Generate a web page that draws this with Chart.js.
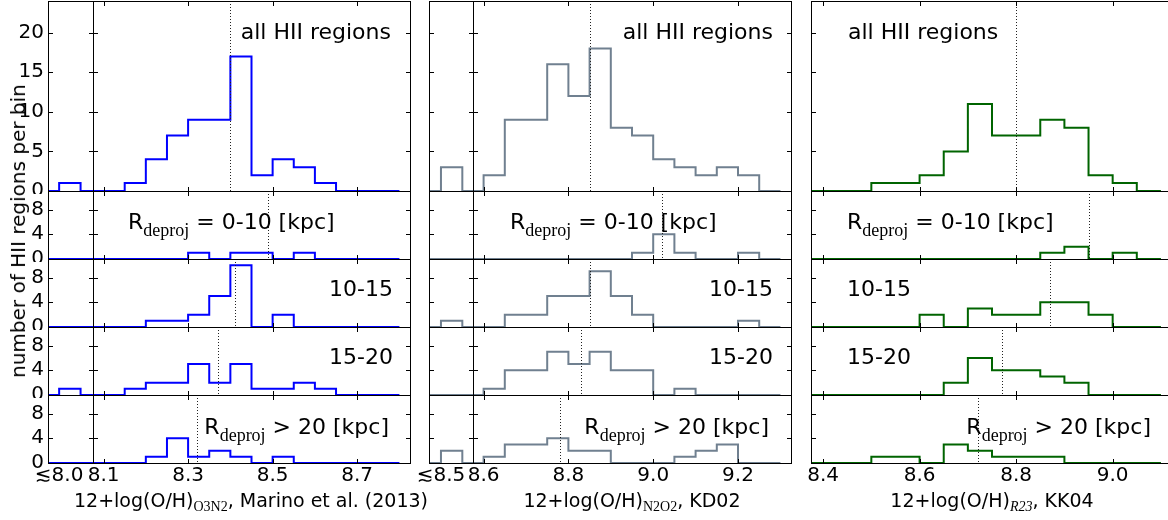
<!DOCTYPE html>
<html>
<head>
<meta charset="utf-8">
<script src="https://cdn.jsdelivr.net/npm/chart.js@4.4.0/dist/chart.umd.min.js"></script>
<style>
  body { margin: 0; background: #fff; }
  #fig { position: relative; width: 1168px; height: 520px; overflow: hidden; background: #fff;
         font-family: "DejaVu Sans", sans-serif; color: #000; }
  #fig canvas { position: absolute; }
  .txt { position: absolute; white-space: nowrap; line-height: 1; }
  .sub { font-family: "Liberation Serif", serif; position: relative; }
</style>
</head>
<body>
<div id="fig"></div>
<script>
// bin edges (0.05 dex bins) and counts
var o3n2Edges = [8.05, 8.10, 8.15, 8.20, 8.25, 8.30, 8.35, 8.40, 8.45, 8.50, 8.55, 8.60, 8.65, 8.70, 8.75, 8.80];
var o3n2All = [0, 0, 1, 4, 7, 9, 9, 17, 2, 4, 3, 1, 0, 0, 0];
var o3n2R0 = [0, 0, 0, 0, 0, 1, 0, 1, 1, 0, 1, 0, 0, 0, 0];
var o3n2R10 = [0, 0, 0, 1, 1, 2, 5, 10, 0, 2, 0, 0, 0, 0, 0];
var o3n2R15 = [0, 0, 1, 2, 2, 5, 2, 5, 1, 1, 2, 1, 0, 0, 0];
var o3n2R20 = [0, 0, 0, 1, 4, 1, 2, 1, 0, 1, 0, 0, 0, 0, 0];
var o3n2LowEdges = [7.95, 8.00, 8.05, 8.10];
var o3n2Low = [1, 0, 0, 1, 0];
var o3n2Median = [8.40, 8.49, 8.41, 8.37, 8.32];
var o3n2Ticks = [8.1, 8.3, 8.5, 8.7];

var n2o2Edges = [8.55, 8.60, 8.65, 8.70, 8.75, 8.80, 8.85, 8.90, 8.95, 9.00, 9.05, 9.10, 9.15, 9.20, 9.25, 9.30];
var n2o2All = [0, 2, 9, 9, 16, 12, 18, 8, 7, 4, 3, 2, 3, 2, 0];
var n2o2R0 = [0, 0, 0, 0, 0, 0, 0, 0, 1, 4, 1, 0, 0, 1, 0];
var n2o2R10 = [0, 0, 2, 2, 5, 5, 9, 5, 2, 0, 0, 0, 0, 1, 0];
var n2o2R15 = [0, 1, 4, 4, 7, 5, 7, 4, 4, 0, 1, 0, 0, 0, 0];
var n2o2R20 = [0, 1, 3, 3, 4, 2, 2, 0, 0, 0, 1, 2, 3, 0, 0];
var n2o2LowEdges = [8.45, 8.50, 8.55, 8.60];
var n2o2Low = [3, 0, 1, 0, 2];
var n2o2Median = [8.85, 9.02, 8.85, 8.83, 8.78];
var n2o2Ticks = [8.6, 8.8, 9.0, 9.2];

var r23Edges = [8.35, 8.40, 8.45, 8.50, 8.55, 8.60, 8.65, 8.70, 8.75, 8.80, 8.85, 8.90, 8.95, 9.00, 9.05, 9.10];
var r23All = [0, 0, 0, 1, 1, 2, 5, 11, 7, 7, 9, 8, 2, 1, 0];
var r23R0 = [0, 0, 0, 0, 0, 0, 0, 0, 0, 0, 1, 2, 0, 1, 0];
var r23R10 = [0, 0, 0, 0, 0, 2, 0, 3, 2, 2, 4, 4, 2, 0, 0];
var r23R15 = [0, 0, 0, 0, 0, 0, 2, 6, 4, 4, 3, 2, 0, 0, 0];
var r23R20 = [0, 0, 0, 1, 1, 0, 3, 2, 1, 1, 1, 0, 0, 0, 0];
var r23Median = [8.80, 8.95, 8.87, 8.77, 8.72];
var r23Ticks = [8.4, 8.6, 8.8, 9.0];

var topTicks = [0, 5, 10, 15, 20];
var rowTicks = [0, 4, 8];

Chart.defaults.font.family = '"DejaVu Sans", sans-serif';
Chart.defaults.color = '#000';

var fig = document.getElementById('fig');

// histtype='step' outline: hold each count to the next edge
function stepPoints(edges, counts) {
  var pts = [{ x: edges[0], y: 0 }];
  counts.forEach(function (c, i) { pts.push({ x: edges[i], y: c }); });
  pts.push({ x: edges[edges.length - 1], y: 0 });
  return pts;
}

// inward ticks on all sides, box frame, dotted median
var framePlugin = {
  id: 'frame',
  afterDraw: function (chart) {
    var o = chart.options.plugins.frame;
    var ctx = chart.ctx, a = chart.chartArea;
    var x = chart.scales.x, y = chart.scales.y;
    ctx.save();
    ctx.lineWidth = 1;
    ctx.strokeStyle = '#000';
    if (o.median != null) {
      var mx = Math.round(x.getPixelForValue(o.median)) + 0.5;
      ctx.strokeStyle = '#222';
      ctx.setLineDash([1, 2]);
      ctx.beginPath();
      ctx.moveTo(mx, a.top);
      ctx.lineTo(mx, a.bottom);
      ctx.stroke();
      ctx.setLineDash([]);
      ctx.strokeStyle = '#000';
    }
    ctx.beginPath();
    o.yTicks.forEach(function (v) {
      var py = Math.round(y.getPixelForValue(v)) + 0.5;
      ctx.moveTo(a.left, py); ctx.lineTo(a.left + 5, py);
      ctx.moveTo(a.right + 1, py); ctx.lineTo(a.right - 4, py);
    });
    o.xTicks.forEach(function (v) {
      var px = Math.round(x.getPixelForValue(v)) + 0.5;
      ctx.moveTo(px, a.top); ctx.lineTo(px, a.top + 5);
      ctx.moveTo(px, a.bottom + 1); ctx.lineTo(px, a.bottom - 4);
    });
    ctx.stroke();
    ctx.strokeRect(a.left + 0.5, a.top + 0.5, a.right - a.left, a.bottom - a.top);
    ctx.restore();
  }
};

function drawPanel(p) {
  var mL = p.yLabels ? 46 : 30, mR = 30, mT = 3, mB = p.xLabels ? 34 : 3;
  var w = p.right - p.left, h = p.bottom - p.top;
  var cv = document.createElement('canvas');
  cv.width = w + mL + mR;
  cv.height = h + mT + mB;
  cv.style.left = (p.left - mL) + 'px';
  cv.style.top = (p.top - mT) + 'px';
  cv.style.width = cv.width + 'px';
  cv.style.height = cv.height + 'px';
  fig.appendChild(cv);

  new Chart(cv, {
    type: 'line',
    data: {
      datasets: [{
        data: p.points,
        borderColor: p.color,
        borderWidth: 2,
        pointRadius: 0,
        fill: false,
        stepped: 'before',
        borderJoinStyle: 'miter'
      }]
    },
    options: {
      responsive: false,
      animation: false,
      devicePixelRatio: 1,
      layout: { padding: { left: p.yLabels ? 0 : mL, right: mR, top: mT, bottom: p.xLabels ? 0 : mB } },
      plugins: {
        legend: { display: false },
        tooltip: { enabled: false },
        frame: { median: p.median, xTicks: p.xTicks, yTicks: p.yTicks }
      },
      scales: {
        x: {
          type: 'linear', min: p.min, max: p.max, display: p.xLabels,
          grid: { display: false, drawTicks: false }, border: { display: false },
          ticks: { autoSkip: false, maxRotation: 0, padding: 1, font: { size: 20 }, callback: p.xFormat },
          afterBuildTicks: function (s) { s.ticks = p.xLabelTicks.map(function (v) { return { value: v }; }); },
          afterFit: function (s) {
            if (!p.xLabels) return;
            s.height = mB; s.paddingLeft = 0; s.paddingRight = 0;
          }
        },
        y: {
          type: 'linear', min: 0, max: p.ymax, display: p.yLabels,
          grid: { display: false, drawTicks: false }, border: { display: false },
          ticks: { autoSkip: false, padding: 4, font: { size: 20 }, callback: function (v) { return String(v); } },
          afterBuildTicks: function (s) { s.ticks = p.yTicks.map(function (v) { return { value: v }; }); },
          afterFit: function (s) {
            if (!p.yLabels) return;
            s.width = mL; s.paddingTop = 0; s.paddingBottom = 0;
          }
        }
      }
    },
    plugins: [framePlugin]
  });
}

var rows = [
  { top: 1, bottom: 191, ymax: 24, ticks: topTicks },
  { top: 191, bottom: 259, ymax: 11, ticks: rowTicks },
  { top: 259, bottom: 327, ymax: 11, ticks: rowTicks },
  { top: 327, bottom: 395, ymax: 11, ticks: rowTicks },
  { top: 395, bottom: 463, ymax: 11, ticks: rowTicks }
];

var columns = [
  { color: '#0000ff', edges: o3n2Edges, counts: [o3n2All, o3n2R0, o3n2R10, o3n2R15, o3n2R20],
    median: o3n2Median, ticks: o3n2Ticks, left: 93, right: 410, min: 8.075, max: 8.825,
    side: { left: 48, right: 93, min: 7.974, max: 8.079, edges: o3n2LowEdges, counts: o3n2Low, label: 8.0 },
    yLabels: true },
  { color: '#708090', edges: n2o2Edges, counts: [n2o2All, n2o2R0, n2o2R10, n2o2R15, n2o2R20],
    median: n2o2Median, ticks: n2o2Ticks, left: 473, right: 791, min: 8.575, max: 9.325,
    side: { left: 429, right: 473, min: 8.472, max: 8.575, edges: n2o2LowEdges, counts: n2o2Low, label: 8.5 },
    yLabels: false },
  { color: '#006400', edges: r23Edges, counts: [r23All, r23R0, r23R10, r23R15, r23R20],
    median: r23Median, ticks: r23Ticks, left: 811, right: 1173, min: 8.375, max: 9.125,
    side: null, yLabels: false }
];

function fmt1(v) { return Number(v).toFixed(1); }
function fmtLow(v) { return '\u2272' + Number(v).toFixed(1); }

columns.forEach(function (c) {
  rows.forEach(function (r, ri) {
    var last = ri === rows.length - 1;
    if (c.side) {
      drawPanel({
        left: c.side.left, right: c.side.right, top: r.top, bottom: r.bottom,
        min: c.side.min, max: c.side.max, ymax: r.ymax, yTicks: r.ticks,
        xTicks: [], xLabelTicks: [c.side.label], xFormat: fmtLow,
        xLabels: last, yLabels: c.yLabels, color: c.color,
        points: stepPoints(c.side.edges, [0, c.side.counts[ri], 0]), median: null
      });
    }
    drawPanel({
      left: c.left, right: c.right, top: r.top, bottom: r.bottom,
      min: c.min, max: c.max, ymax: r.ymax, yTicks: r.ticks,
      xTicks: c.ticks, xLabelTicks: c.ticks, xFormat: fmt1,
      xLabels: last, yLabels: c.yLabels && !c.side, color: c.color,
      points: stepPoints(c.edges, c.counts[ri]), median: c.median[ri]
    });
  });
});

// free text
function addText(html, x, baseline, align, size) {
  var d = document.createElement('div');
  d.className = 'txt';
  d.style.fontSize = size + 'px';
  d.style.top = (baseline - 0.846 * size) + 'px';
  if (align === 'right') d.style.right = (1168 - x) + 'px';
  else if (align === 'center') { d.style.left = x + 'px'; d.style.transform = 'translateX(-50%)'; }
  else d.style.left = x + 'px';
  d.innerHTML = html;
  fig.appendChild(d);
}

var deproj = 'R<span class="sub" style="font-size:18px;top:7px">deproj</span>';
var rowText = ['all HII regions', deproj + ' = 0-10 [kpc]', '10-15', '15-20', deproj + ' &gt; 20 [kpc]'];
var rowBase = [39.5, 229.5, 297, 365, 434.5];

addText(rowText[0], 391, rowBase[0], 'right', 22);
addText(rowText[0], 773, rowBase[0], 'right', 22);
addText(rowText[0], 848, rowBase[0], 'left', 22);
addText(rowText[1], 128, rowBase[1], 'left', 22);
addText(rowText[1], 510, rowBase[1], 'left', 22);
addText(rowText[1], 847, rowBase[1], 'left', 22);
[2, 3].forEach(function (i) {
  addText(rowText[i], 393, rowBase[i], 'right', 22);
  addText(rowText[i], 773, rowBase[i], 'right', 22);
  addText(rowText[i], 847, rowBase[i], 'left', 22);
});
addText(rowText[4], 389, rowBase[4], 'right', 22);
addText(rowText[4], 769, rowBase[4], 'right', 22);
addText(rowText[4], 1151, rowBase[4], 'right', 22);

var oh = '12+log(O/H)';
addText(oh + '<span class="sub" style="font-size:14px;top:4px">O3N2</span>, Marino et al. (2013)', 251, 507.5, 'center', 19);
addText(oh + '<span class="sub" style="font-size:14px;top:4px">N2O2</span>, KD02', 632, 507.5, 'center', 19);
addText(oh + '<span class="sub" style="font-size:14px;top:4px;font-style:italic">R23</span>, KK04', 992, 507.5, 'center', 19);

var yTitle = document.createElement('div');
yTitle.className = 'txt';
yTitle.style.fontSize = '20px';
yTitle.style.left = '18px';
yTitle.style.top = '231px';
yTitle.style.transform = 'translate(-50%, -50%) rotate(-90deg)';
yTitle.textContent = 'number of HII regions per bin';
fig.appendChild(yTitle);
</script>
</body>
</html>
